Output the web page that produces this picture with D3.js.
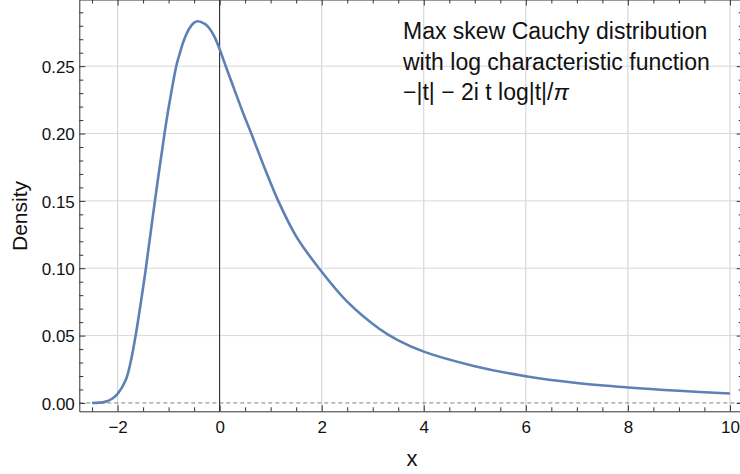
<!DOCTYPE html>
<html>
<head>
<meta charset="utf-8">
<script src="https://cdn.jsdelivr.net/npm/d3@7"></script>
<style>
  body { margin: 0; background: #fff; }
  svg { display: block; font-family: "Liberation Sans", Arial, sans-serif; }
</style>
</head>
<body>
<svg id="chart"></svg>
<script>
// values
const xValues = [-2.5, -2.25, -2.1, -2.0, -1.84, -1.75, -1.646, -1.5, -1.45, -1.268, -1.08, -0.99, -0.85, -0.8, -0.7, -0.6, -0.5, -0.425, -0.3, -0.21, -0.1, 0, 0.12, 0.3, 0.45, 0.62, 0.9, 1.148, 1.5, 1.946, 2.5, 3.12, 3.5, 4, 5, 6, 7, 8, 9, 10];
const densityValues = [0.0, 0.0008, 0.0033, 0.0067, 0.017, 0.0293, 0.05, 0.0857, 0.0987, 0.15, 0.20, 0.2213, 0.25, 0.257, 0.2692, 0.2776, 0.2823, 0.2834, 0.2816, 0.2785, 0.2718, 0.2626, 0.25, 0.2315, 0.2162, 0.20, 0.1726, 0.15, 0.1237, 0.10, 0.0752, 0.0553, 0.0465, 0.0381, 0.0273, 0.0198, 0.0148, 0.0115, 0.0090, 0.0070];

const xTicks = [-2, 0, 2, 4, 6, 8, 10];
const yTicks = [0, 0.05, 0.10, 0.15, 0.20, 0.25];
const titleLines = ["Max skew Cauchy distribution", "with log characteristic function"];

function drawDensity(svgSelector, width, height) {
  const svg = d3.select(svgSelector)
    .attr("width", width)
    .attr("height", height);

  // plot frame (top and right edges run just off the picture)
  const left = 79.3, right = 742.7, top = -0.5, bottom = 411.3;

  const x = d3.scaleLinear().domain([-2.75, 10.25]).range([left, right]);
  const y = d3.scaleLinear().domain([-0.0062, 0.2995]).range([bottom, top]);

  // grid lines
  svg.append("g").selectAll("line")
    .data(xTicks.filter(d => d !== 0))
    .enter().append("line")
    .attr("x1", d => x(d)).attr("x2", d => x(d))
    .attr("y1", top).attr("y2", bottom)
    .style("stroke", "#d0d0d0").style("stroke-width", 1);

  svg.append("g").selectAll("line")
    .data(yTicks.filter(d => d !== 0))
    .enter().append("line")
    .attr("x1", left).attr("x2", right)
    .attr("y1", d => y(d)).attr("y2", d => y(d))
    .style("stroke", "#d8d8d8").style("stroke-width", 1);

  // dashed zero line and the y axis at x = 0
  svg.append("line")
    .attr("x1", left).attr("x2", right)
    .attr("y1", y(0)).attr("y2", y(0))
    .style("stroke", "#808080").style("stroke-width", 1)
    .style("stroke-dasharray", "4,3");

  svg.append("line")
    .attr("x1", x(0)).attr("x2", x(0))
    .attr("y1", top).attr("y2", bottom)
    .style("stroke", "#1a1a1a").style("stroke-width", 1);

  // density curve
  const data = xValues.map((v, i) => ({ x: v, d: densityValues[i] }));
  const line = d3.line()
    .x(p => x(p.x))
    .y(p => y(p.d))
    .curve(d3.curveCatmullRom.alpha(0.5));

  svg.append("path")
    .datum(data)
    .attr("d", line)
    .style("fill", "none")
    .style("stroke", "#5e81b5")
    .style("stroke-width", 2.6)
    .style("stroke-linejoin", "round");

  // frame axes with inward ticks on all four sides
  const xMinor = d3.range(-2.5, 10.01, 0.5).filter(v => !xTicks.includes(v));
  const yMinor = d3.range(0, 0.2951, 0.01).map(v => +v.toFixed(2)).filter(v => !yTicks.some(t => Math.abs(t - v) < 1e-9));

  function frameAxis(axisFn, scale, pos, major, minor, labels) {
    const g = svg.append("g").attr("transform", pos);
    g.call(axisFn(scale).tickValues(major).tickSizeInner(-6).tickSizeOuter(0)
      .tickFormat(labels ? (scale === x ? d3.format("d") : d3.format(".2f")) : ""));
    g.append("g").call(axisFn(scale).tickValues(minor).tickSizeInner(-4).tickSizeOuter(0).tickFormat(""))
      .select(".domain").remove();
    g.selectAll("path.domain").style("stroke", "#333");
    g.selectAll("line").style("stroke", "#333");
    g.selectAll("text")
      .style("font-size", "17px")
      .style("fill", "#111")
      .style("font-family", "'Liberation Sans', Arial, sans-serif");
    return g;
  }

  const xAxis = frameAxis(d3.axisBottom, x, `translate(0,${bottom})`, xTicks, xMinor, true);
  xAxis.selectAll("text").attr("y", 10).attr("dy", "0.71em");
  frameAxis(d3.axisTop, x, `translate(0,${top})`, xTicks, xMinor, false);
  const yAxis = frameAxis(d3.axisLeft, y, `translate(${left},0)`, yTicks, yMinor, true);
  yAxis.selectAll("text").attr("x", -4.5).attr("dy", "0.36em");
  frameAxis(d3.axisRight, y, `translate(${right},0)`, yTicks, yMinor, false);

  // axis titles
  svg.append("text")
    .attr("x", 412).attr("y", 465.5)
    .attr("text-anchor", "middle")
    .style("font-size", "22px").style("fill", "#111")
    .text("x");

  svg.append("text")
    .attr("transform", "translate(27,216) rotate(-90)")
    .attr("text-anchor", "middle")
    .style("font-size", "21px").style("fill", "#111")
    .text("Density");

  // annotation
  const note = svg.append("text")
    .style("font-size", "23px").style("fill", "#111");
  titleLines.forEach((t, i) => {
    note.append("tspan").attr("x", 403).attr("y", 39.3 + i * 30.4).text(t);
  });
  const last = note.append("tspan").attr("x", 403).attr("y", 39.3 + 2 * 30.4);
  last.append("tspan").text("\u2212|t| \u2212 2i t log|t|/");
  last.append("tspan").style("font-style", "italic").text("\u03c0");
}

drawDensity("#chart", 740, 474);
</script>
</body>
</html>
